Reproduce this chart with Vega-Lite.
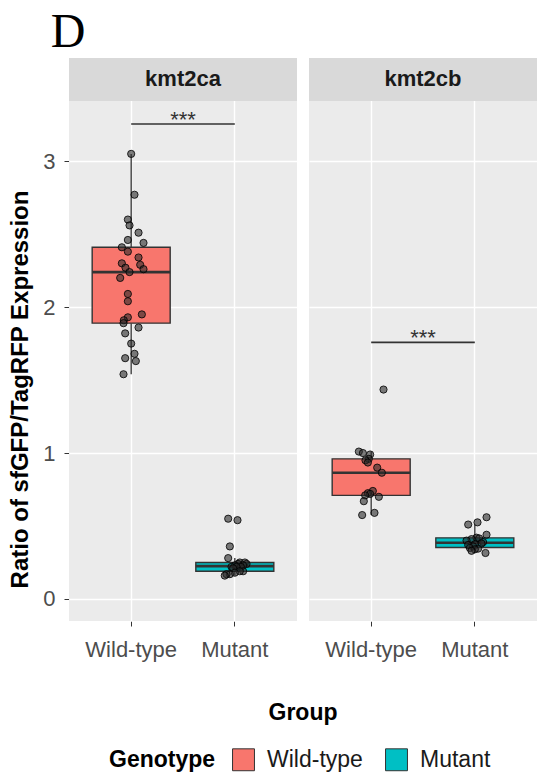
{
  "$schema": "https://vega.github.io/schema/vega-lite/v6.json",
  "padding": {"left": 8, "top": 9, "right": 0, "bottom": 5},
  "title": {"text": "D", "anchor": "start", "frame": "bounds", "font": "Liberation Serif", "fontSize": 48, "fontWeight": "normal", "color": "#000000", "dx": 42, "offset": 1},
  "data": {"values": [
    {"kind": "strip", "gene": "kmt2ca"},
    {"kind": "strip", "gene": "kmt2cb"},
    {"kind": "sig", "gene": "kmt2ca", "group": "Wild-type", "g2": "Mutant", "value": 3.255, "label": "***"},
    {"kind": "sig", "gene": "kmt2cb", "group": "Wild-type", "g2": "Mutant", "value": 1.758, "label": "***"},
    {"kind": "pt", "gene": "kmt2ca", "group": "Wild-type", "value": 3.05, "jit": 0},
    {"kind": "pt", "gene": "kmt2ca", "group": "Wild-type", "value": 2.77, "jit": 0.032},
    {"kind": "pt", "gene": "kmt2ca", "group": "Wild-type", "value": 2.60, "jit": -0.032},
    {"kind": "pt", "gene": "kmt2ca", "group": "Wild-type", "value": 2.56, "jit": -0.016},
    {"kind": "pt", "gene": "kmt2ca", "group": "Wild-type", "value": 2.51, "jit": 0.071},
    {"kind": "pt", "gene": "kmt2ca", "group": "Wild-type", "value": 2.46, "jit": -0.032},
    {"kind": "pt", "gene": "kmt2ca", "group": "Wild-type", "value": 2.44, "jit": 0.119},
    {"kind": "pt", "gene": "kmt2ca", "group": "Wild-type", "value": 2.41, "jit": -0.090},
    {"kind": "pt", "gene": "kmt2ca", "group": "Wild-type", "value": 2.38, "jit": -0.032},
    {"kind": "pt", "gene": "kmt2ca", "group": "Wild-type", "value": 2.34, "jit": 0.071},
    {"kind": "pt", "gene": "kmt2ca", "group": "Wild-type", "value": 2.30, "jit": -0.090},
    {"kind": "pt", "gene": "kmt2ca", "group": "Wild-type", "value": 2.29, "jit": 0.087},
    {"kind": "pt", "gene": "kmt2ca", "group": "Wild-type", "value": 2.27, "jit": -0.055},
    {"kind": "pt", "gene": "kmt2ca", "group": "Wild-type", "value": 2.26, "jit": 0.119},
    {"kind": "pt", "gene": "kmt2ca", "group": "Wild-type", "value": 2.24, "jit": -0.016},
    {"kind": "pt", "gene": "kmt2ca", "group": "Wild-type", "value": 2.20, "jit": -0.106},
    {"kind": "pt", "gene": "kmt2ca", "group": "Wild-type", "value": 2.09, "jit": -0.032},
    {"kind": "pt", "gene": "kmt2ca", "group": "Wild-type", "value": 2.04, "jit": -0.032},
    {"kind": "pt", "gene": "kmt2ca", "group": "Wild-type", "value": 1.95, "jit": 0.103},
    {"kind": "pt", "gene": "kmt2ca", "group": "Wild-type", "value": 1.93, "jit": -0.032},
    {"kind": "pt", "gene": "kmt2ca", "group": "Wild-type", "value": 1.91, "jit": -0.071},
    {"kind": "pt", "gene": "kmt2ca", "group": "Wild-type", "value": 1.89, "jit": -0.074},
    {"kind": "pt", "gene": "kmt2ca", "group": "Wild-type", "value": 1.86, "jit": 0.071},
    {"kind": "pt", "gene": "kmt2ca", "group": "Wild-type", "value": 1.82, "jit": -0.058},
    {"kind": "pt", "gene": "kmt2ca", "group": "Wild-type", "value": 1.75, "jit": 0},
    {"kind": "pt", "gene": "kmt2ca", "group": "Wild-type", "value": 1.68, "jit": 0.032},
    {"kind": "pt", "gene": "kmt2ca", "group": "Wild-type", "value": 1.65, "jit": -0.058},
    {"kind": "pt", "gene": "kmt2ca", "group": "Wild-type", "value": 1.63, "jit": 0.045},
    {"kind": "pt", "gene": "kmt2ca", "group": "Wild-type", "value": 1.54, "jit": -0.074},
    {"kind": "pt", "gene": "kmt2ca", "group": "Mutant", "value": 0.55, "jit": -0.064},
    {"kind": "pt", "gene": "kmt2ca", "group": "Mutant", "value": 0.54, "jit": 0.026},
    {"kind": "pt", "gene": "kmt2ca", "group": "Mutant", "value": 0.36, "jit": -0.048},
    {"kind": "pt", "gene": "kmt2ca", "group": "Mutant", "value": 0.28, "jit": -0.064},
    {"kind": "pt", "gene": "kmt2ca", "group": "Mutant", "value": 0.25, "jit": 0.048},
    {"kind": "pt", "gene": "kmt2ca", "group": "Mutant", "value": 0.25, "jit": 0.097},
    {"kind": "pt", "gene": "kmt2ca", "group": "Mutant", "value": 0.24, "jit": 0.113},
    {"kind": "pt", "gene": "kmt2ca", "group": "Mutant", "value": 0.24, "jit": 0.032},
    {"kind": "pt", "gene": "kmt2ca", "group": "Mutant", "value": 0.23, "jit": 0.080},
    {"kind": "pt", "gene": "kmt2ca", "group": "Mutant", "value": 0.23, "jit": 0},
    {"kind": "pt", "gene": "kmt2ca", "group": "Mutant", "value": 0.22, "jit": 0.058},
    {"kind": "pt", "gene": "kmt2ca", "group": "Mutant", "value": 0.22, "jit": -0.032},
    {"kind": "pt", "gene": "kmt2ca", "group": "Mutant", "value": 0.22, "jit": 0.016},
    {"kind": "pt", "gene": "kmt2ca", "group": "Mutant", "value": 0.21, "jit": -0.016},
    {"kind": "pt", "gene": "kmt2ca", "group": "Mutant", "value": 0.19, "jit": 0.080},
    {"kind": "pt", "gene": "kmt2ca", "group": "Mutant", "value": 0.19, "jit": 0.048},
    {"kind": "pt", "gene": "kmt2ca", "group": "Mutant", "value": 0.18, "jit": 0},
    {"kind": "pt", "gene": "kmt2ca", "group": "Mutant", "value": 0.17, "jit": -0.048},
    {"kind": "pt", "gene": "kmt2ca", "group": "Mutant", "value": 0.17, "jit": -0.080},
    {"kind": "pt", "gene": "kmt2ca", "group": "Mutant", "value": 0.16, "jit": -0.097},
    {"kind": "pt", "gene": "kmt2cb", "group": "Wild-type", "value": 1.435, "jit": 0.119},
    {"kind": "pt", "gene": "kmt2cb", "group": "Wild-type", "value": 1.01, "jit": -0.119},
    {"kind": "pt", "gene": "kmt2cb", "group": "Wild-type", "value": 1.00, "jit": -0.080},
    {"kind": "pt", "gene": "kmt2cb", "group": "Wild-type", "value": 0.99, "jit": -0.010},
    {"kind": "pt", "gene": "kmt2cb", "group": "Wild-type", "value": 0.96, "jit": -0.023},
    {"kind": "pt", "gene": "kmt2cb", "group": "Wild-type", "value": 0.95, "jit": -0.055},
    {"kind": "pt", "gene": "kmt2cb", "group": "Wild-type", "value": 0.935, "jit": -0.032},
    {"kind": "pt", "gene": "kmt2cb", "group": "Wild-type", "value": 0.90, "jit": 0.058},
    {"kind": "pt", "gene": "kmt2cb", "group": "Wild-type", "value": 0.865, "jit": 0.103},
    {"kind": "pt", "gene": "kmt2cb", "group": "Wild-type", "value": 0.74, "jit": 0.016},
    {"kind": "pt", "gene": "kmt2cb", "group": "Wild-type", "value": 0.725, "jit": -0.032},
    {"kind": "pt", "gene": "kmt2cb", "group": "Wild-type", "value": 0.72, "jit": -0.010},
    {"kind": "pt", "gene": "kmt2cb", "group": "Wild-type", "value": 0.71, "jit": -0.058},
    {"kind": "pt", "gene": "kmt2cb", "group": "Wild-type", "value": 0.70, "jit": 0.074},
    {"kind": "pt", "gene": "kmt2cb", "group": "Wild-type", "value": 0.67, "jit": -0.071},
    {"kind": "pt", "gene": "kmt2cb", "group": "Wild-type", "value": 0.59, "jit": 0.032},
    {"kind": "pt", "gene": "kmt2cb", "group": "Wild-type", "value": 0.575, "jit": -0.087},
    {"kind": "pt", "gene": "kmt2cb", "group": "Mutant", "value": 0.56, "jit": 0.113},
    {"kind": "pt", "gene": "kmt2cb", "group": "Mutant", "value": 0.525, "jit": 0.026},
    {"kind": "pt", "gene": "kmt2cb", "group": "Mutant", "value": 0.51, "jit": -0.064},
    {"kind": "pt", "gene": "kmt2cb", "group": "Mutant", "value": 0.44, "jit": 0.113},
    {"kind": "pt", "gene": "kmt2cb", "group": "Mutant", "value": 0.42, "jit": 0.016},
    {"kind": "pt", "gene": "kmt2cb", "group": "Mutant", "value": 0.415, "jit": 0.042},
    {"kind": "pt", "gene": "kmt2cb", "group": "Mutant", "value": 0.41, "jit": -0.032},
    {"kind": "pt", "gene": "kmt2cb", "group": "Mutant", "value": 0.40, "jit": -0.080},
    {"kind": "pt", "gene": "kmt2cb", "group": "Mutant", "value": 0.39, "jit": 0.080},
    {"kind": "pt", "gene": "kmt2cb", "group": "Mutant", "value": 0.38, "jit": 0.064},
    {"kind": "pt", "gene": "kmt2cb", "group": "Mutant", "value": 0.375, "jit": 0},
    {"kind": "pt", "gene": "kmt2cb", "group": "Mutant", "value": 0.37, "jit": -0.064},
    {"kind": "pt", "gene": "kmt2cb", "group": "Mutant", "value": 0.36, "jit": -0.016},
    {"kind": "pt", "gene": "kmt2cb", "group": "Mutant", "value": 0.35, "jit": -0.048},
    {"kind": "pt", "gene": "kmt2cb", "group": "Mutant", "value": 0.345, "jit": 0.032},
    {"kind": "pt", "gene": "kmt2cb", "group": "Mutant", "value": 0.34, "jit": 0},
    {"kind": "pt", "gene": "kmt2cb", "group": "Mutant", "value": 0.33, "jit": -0.032},
    {"kind": "pt", "gene": "kmt2cb", "group": "Mutant", "value": 0.315, "jit": 0.103}
  ]},
  "facet": {"column": {"field": "gene", "type": "nominal", "title": "Group",
    "header": {"labels": false, "titleOrient": "bottom", "titleFont": "Liberation Sans", "titleFontSize": 23, "titleFontWeight": "bold", "titleColor": "#000000", "titlePadding": 32}}},
  "spacing": 12,
  "spec": {
    "width": 228,
    "height": 563,
    "layer": [
      {
        "transform": [{"filter": "datum.kind === 'pt'"}],
        "mark": {"type": "boxplot", "extent": 1.5, "size": 78, "outliers": false, "ticks": false,
          "box": {"stroke": "#333333", "strokeWidth": 1.4},
          "median": {"color": "#333333", "thickness": 2.6, "opacity": 1},
          "rule": {"color": "#333333", "strokeWidth": 1.3}},
        "encoding": {
          "x": {"field": "group", "type": "nominal", "sort": ["Wild-type", "Mutant"],
            "scale": {"domain": ["Wild-type", "Mutant"], "paddingInner": 0.25, "paddingOuter": 0.225},
            "axis": {"title": null, "labelAngle": 0, "labelFont": "Liberation Sans", "labelFontSize": 22, "labelColor": "#4D4D4D", "tickColor": "#333333", "tickSize": 5, "domain": false, "grid": true, "gridColor": "#FFFFFF", "gridWidth": 1.4, "labelPadding": 13}},
          "y": {"field": "value", "type": "quantitative",
            "scale": {"domain": [-0.151, 3.707], "nice": false, "zero": false},
            "axis": {"title": "Ratio of sfGFP/TagRFP Expression", "values": [0, 0.5, 1, 1.5, 2, 2.5, 3], "format": "d",
              "labelExpr": "datum.value % 1 === 0 ? datum.label : ''",
              "tickOpacity": {"condition": {"test": "datum.value % 1 !== 0", "value": 0}, "value": 1},
              "gridWidth": {"condition": {"test": "datum.value % 1 !== 0", "value": 0.7}, "value": 1.4},
              "gridColor": "#FFFFFF", "domain": false, "tickColor": "#333333", "tickSize": 5,
              "labelColor": "#4D4D4D", "labelFont": "Liberation Sans", "labelFontSize": 22, "labelPadding": 9,
              "titleFont": "Liberation Sans", "titleFontSize": 24, "titleFontWeight": "bold", "titleColor": "#000000", "titlePadding": 10, "titleY": 331}},
          "color": {"field": "group", "type": "nominal",
            "scale": {"domain": ["Wild-type", "Mutant"], "range": ["#F8766D", "#00BFC4"]},
            "legend": {"title": "Genotype", "orient": "none", "legendX": 40, "legendY": 690, "direction": "horizontal", "titleOrient": "left",
              "titleFont": "Liberation Sans", "titleFontSize": 23, "titleFontWeight": "bold", "titleColor": "#000000",
              "labelFont": "Liberation Sans", "labelFontSize": 23, "labelColor": "#1A1A1A",
              "symbolType": "square", "symbolSize": 480, "symbolStrokeColor": "#333333", "symbolStrokeWidth": 1, "symbolOpacity": 1,
              "columnPadding": 20, "labelOffset": 12, "titlePadding": 16}}
        }
      },
      {
        "transform": [{"filter": "datum.kind === 'pt'"}],
        "mark": {"type": "circle", "size": 52, "fill": "#2A2A2A", "fillOpacity": 0.6, "stroke": "#000000", "strokeWidth": 1, "strokeOpacity": 0.8},
        "encoding": {
          "x": {"field": "group", "type": "nominal", "sort": ["Wild-type", "Mutant"]},
          "xOffset": {"field": "jit", "type": "quantitative", "scale": {"domain": [-0.375, 0.375]}},
          "y": {"field": "value", "type": "quantitative"}
        }
      },
      {
        "transform": [{"filter": "datum.kind === 'strip'"}],
        "mark": {"type": "rect", "color": "#D9D9D9"},
        "encoding": {
          "y": {"datum": 3.413, "type": "quantitative"},
          "y2": {"datum": 3.707}
        }
      },
      {
        "transform": [{"filter": "datum.kind === 'strip'"}],
        "mark": {"type": "text", "font": "Liberation Sans", "fontSize": 22, "fontWeight": "bold", "color": "#1A1A1A", "baseline": "middle"},
        "encoding": {
          "y": {"datum": 3.56, "type": "quantitative"},
          "text": {"field": "gene"}
        }
      },
      {
        "transform": [{"filter": "datum.kind === 'sig'"}],
        "mark": {"type": "rule", "color": "#333333", "strokeWidth": 1.6},
        "encoding": {
          "x": {"field": "group", "type": "nominal"},
          "x2": {"field": "g2"},
          "y": {"field": "value", "type": "quantitative"}
        }
      },
      {
        "transform": [{"filter": "datum.kind === 'sig'"}],
        "mark": {"type": "text", "font": "Liberation Sans", "fontSize": 22, "color": "#333333", "baseline": "alphabetic", "dy": 3},
        "encoding": {
          "y": {"field": "value", "type": "quantitative"},
          "text": {"field": "label"}
        }
      }
    ]
  },
  "config": {
    "view": {"stroke": null, "fill": "#EBEBEB"},
    "background": "#FFFFFF",
    "font": "Liberation Sans"
  }
}
